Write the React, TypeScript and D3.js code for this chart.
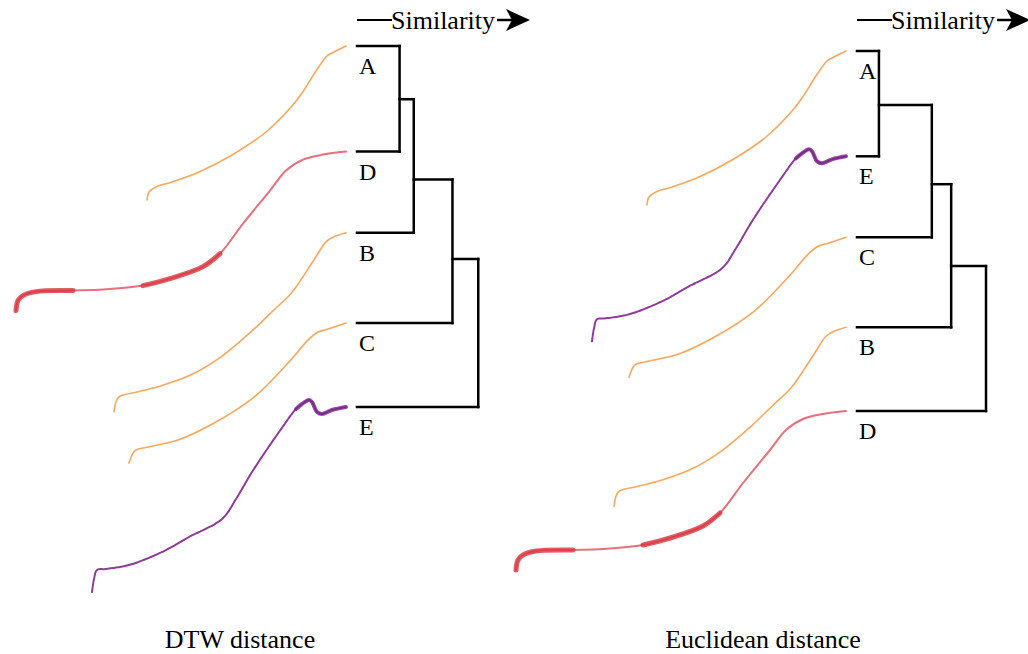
import React from 'react';
import * as d3 from 'd3';

// leaf order of each dendrogram, top to bottom
const dtwOrder = ['A', 'D', 'B', 'C', 'E'];
const eucOrder = ['A', 'E', 'C', 'B', 'D'];

// leaf rows (in row units) and merge levels (0 = identical)
const leafRows = [0, 1.17, 2.07, 3.07, 4];
const dtwMergeDist = [0.33, 0.44, 0.74, 0.94];
const dtwMergeRow = [0.59, 1.48, 2.36, 3.2];
const eucMergeDist = [0.17, 0.58, 0.73, 1.0];
const eucMergeRow = [0.6, 1.48, 2.39, 3.2];

// time series, t = time step, v = value
const tA = [0, 2, 9, 25, 52, 85, 119, 145, 155, 169, 180, 185, 199];
const vA = [0, 8, 13, 18, 28, 45, 68, 94, 107, 129, 144, 147, 154];
const tB = [0, 2, 5, 24, 47, 77, 107, 137, 160, 174, 180, 200, 212, 220, 232];
const vB = [0, 10, 15, 20, 26, 37, 55, 80, 102, 115, 122, 152, 170, 175, 179];
const tC = [0, 4, 7, 19, 49, 85, 125, 159, 179, 189, 199, 217];
const vC = [0, 10, 13, 16, 23, 40, 66, 100, 123, 131, 134, 140];
const tD = [0, 2, 7, 20, 57, 87, 127, 154, 187, 204, 227, 254, 270, 287, 307, 330];
const vD = [0, 10, 15, 19, 20, 21, 25, 32, 44, 57, 87, 120, 140, 151, 156, 159];
const tE = [0, 2, 5, 14, 37, 70, 97, 130, 144, 160, 187, 204, 210, 217, 220, 225, 230, 240, 254];
const vE = [0, 13, 22, 23, 27, 40, 55, 73, 93, 120, 160, 183, 188, 192, 190, 180, 178, 182, 185];

const seriesT: Record<string, number[]> = { A: tA, B: tB, C: tC, D: tD, E: tE };
const seriesV: Record<string, number[]> = { A: vA, B: vB, C: vC, D: vD, E: vE };
const seriesColor: Record<string, string> = { A: '#f9a85d', B: '#f9a85d', C: '#f9a85d', D: '#e8707c', E: '#8e3b9c' };
// emphasised stretches [tStart, tEnd]
const thickRanges: Record<string, [number, number][]> = { D: [[0, 57], [127, 204]], E: [[204, 254]] };
const thickColor: Record<string, string> = { D: '#d9353f', E: '#7b2589' };

const panels = [
  { title: 'DTW distance', order: dtwOrder, dist: dtwMergeDist, rows: dtwMergeRow, x0: 357, y0: 46, y4: 407, titleX: 240 },
  { title: 'Euclidean distance', order: eucOrder, dist: eucMergeDist, rows: eucMergeRow, x0: 857, y0: 51, y4: 411, titleX: 763 },
];

const font = 'Liberation Serif, Times New Roman, DejaVu Serif, serif';

const Panel = ({ p }: { p: typeof panels[0] }) => {
  const xd = d3.scaleLinear().domain([0, 1]).range([p.x0, p.x0 + 129]);
  const yr = d3.scaleLinear().domain([0, 4]).range([p.y0, p.y4]);
  const segs: [number, number, number, number][] = [];
  let cx = xd(0), cy = yr(leafRows[0]);
  for (let i = 1; i < p.order.length; i++) {
    const mx = xd(p.dist[i - 1]);
    const ly = yr(leafRows[i]);
    segs.push([cx, cy, mx, cy]);
    segs.push([xd(0), ly, mx, ly]);
    segs.push([mx, cy, mx, ly]);
    cx = mx;
    cy = yr(p.rows[i - 1]);
  }
  const endX = p.x0 - 11;
  return (
    <g>
      {p.order.map((name, i) => {
        const ts = seriesT[name], vs = seriesV[name];
        const tl = ts[ts.length - 1], vl = vs[vs.length - 1];
        const sx = d3.scaleLinear().domain([0, tl]).range([endX - tl, endX]);
        const sy = d3.scaleLinear().domain([0, vl]).range([yr(leafRows[i]) + vl, yr(leafRows[i])]);
        const pts = ts.map((t, j) => [t, vs[j]] as [number, number]);
        const line = d3.line<[number, number]>().x(d => sx(d[0])).y(d => sy(d[1])).curve(d3.curveCatmullRom);
        return (
          <g key={name}>
            <path d={line(pts) || ''} fill="none" stroke={seriesColor[name]} strokeWidth={name === 'E' ? 2 : name === 'D' ? 2 : 1.6}
              strokeDasharray={name === 'E' ? '4 1' : undefined} strokeLinecap="round" />
            {(thickRanges[name] || []).map((r, k) => (
              <path key={k} d={line(pts.filter(d => d[0] >= r[0] && d[0] <= r[1])) || ''} fill="none"
                stroke={thickColor[name]} strokeWidth={name === 'E' ? 4 : 5} strokeOpacity={0.8} strokeLinecap="round" />
            ))}
          </g>
        );
      })}
      {segs.map((s, i) => (
        <line key={i} x1={s[0]} y1={s[1]} x2={s[2]} y2={s[3]} stroke="#000" strokeWidth={2.5} strokeLinecap="square" />
      ))}
      <g style={{ fontFamily: font }}>
        {p.order.map((name, i) => (
          <text key={name} x={xd(0) + 2} y={yr(leafRows[i]) + 28} fontSize={24} fill="#000">{name}</text>
        ))}
        <text x={p.x0 + 34} y={29} fontSize={26} fill="#000">Similarity</text>
        <text x={p.titleX} y={648} textAnchor="middle" fontSize={26} fill="#000">{p.title}</text>
      </g>
      <line x1={p.x0} y1={20} x2={p.x0 + 35} y2={20} stroke="#000" strokeWidth={2} />
      <line x1={p.x0 + 140} y1={20} x2={p.x0 + 156} y2={20} stroke="#000" strokeWidth={2.5} />
      <path d={`M${p.x0 + 173},20 L${p.x0 + 149},9 L${p.x0 + 155},20 L${p.x0 + 149},31 Z`} fill="#000" />
    </g>
  );
};

export default function App() {
  return (
    <svg width={1028} height={654} style={{ position: 'absolute', left: 0, top: 0, background: '#fff' }}>
      {panels.map(p => <Panel key={p.title} p={p} />)}
    </svg>
  );
}
